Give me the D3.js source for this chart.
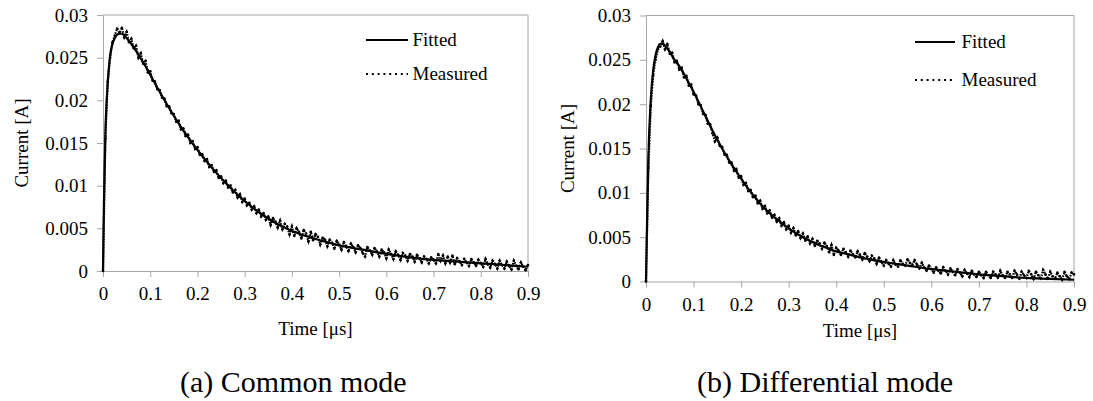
<!DOCTYPE html>
<html>
<head>
<meta charset="utf-8">
<script src="https://cdn.jsdelivr.net/npm/d3@7"></script>
<style>
  html, body { margin: 0; padding: 0; background: #fff; }
  svg { display: block; }
  text { font-family: "Liberation Serif", "Times New Roman", serif; fill: #000; }
</style>
</head>
<body>
<svg id="fig" width="1093" height="401"></svg>
<script>
// Tick values and labels shared by both panels
const currentTicks = [0, 0.005, 0.01, 0.015, 0.02, 0.025, 0.03];
const currentTickLabels = ["0", "0.005", "0.01", "0.015", "0.02", "0.025", "0.03"];
const timeTicks = [0, 0.1, 0.2, 0.3, 0.4, 0.5, 0.6, 0.7, 0.8, 0.9];
const timeTickLabels = ["0", "0.1", "0.2", "0.3", "0.4", "0.5", "0.6", "0.7", "0.8", "0.9"];
const seriesNames = ["Fitted", "Measured"];
const panelCaptions = ["(a) Common mode", "(b) Differential mode"];

// Fitted waveforms (time in µs, current in A)
const fittedTime = [0, 0.002, 0.005, 0.01, 0.015, 0.02, 0.025, 0.03, 0.035, 0.04, 0.05, 0.06, 0.07, 0.08, 0.09,
  0.10, 0.12, 0.14, 0.16, 0.18, 0.20, 0.22, 0.24, 0.26, 0.28, 0.30, 0.32, 0.34, 0.36, 0.38, 0.40,
  0.43, 0.46, 0.50, 0.55, 0.60, 0.65, 0.70, 0.75, 0.80, 0.85, 0.90];
const fittedCommon = [0, 0.008, 0.016, 0.022, 0.0252, 0.0266, 0.0273, 0.0277, 0.0278, 0.0278, 0.0273, 0.0266, 0.0258, 0.0249, 0.0240,
  0.0230, 0.0210, 0.0191, 0.0173, 0.0157, 0.0142, 0.0128, 0.0115, 0.0103, 0.0092, 0.0082, 0.0073, 0.0065, 0.0058, 0.0052, 0.0047,
  0.0041, 0.0036, 0.0030, 0.0025, 0.0020, 0.0016, 0.0013, 0.0011, 0.0009, 0.0007, 0.0005];
const fittedDifferential = [0, 0.006, 0.014, 0.0205, 0.0238, 0.0255, 0.0264, 0.0268, 0.0268, 0.0266, 0.0259, 0.0250, 0.0243, 0.0234, 0.0224,
  0.0214, 0.0192, 0.0170, 0.0150, 0.0132, 0.0116, 0.0101, 0.0088, 0.0077, 0.0068, 0.0060, 0.0053, 0.0047, 0.0042, 0.0038, 0.0034,
  0.0030, 0.0026, 0.0022, 0.0018, 0.0014, 0.0011, 0.0008, 0.0006, 0.0004, 0.0003, 0.0002];

// Measured waveforms, one sample every 5 ns from 0 to 0.9 µs
const sampleStep = 0.005;
const measuredCommon = [
  0, 0.0155, 0.0222, 0.0250, 0.0268, 0.0276, 0.0284, 0.0279, 0.0285, 0.0274,
  0.0280, 0.0268, 0.0272, 0.0261, 0.0264, 0.0250, 0.0255, 0.0243, 0.0246, 0.0233,
  0.0234, 0.0223, 0.0222, 0.0213, 0.0212, 0.0203, 0.0202, 0.0193, 0.0193, 0.0185,
  0.0184, 0.0175, 0.0176, 0.0166, 0.0167, 0.0158, 0.0160, 0.0150, 0.0152, 0.0143,
  0.0145, 0.0136, 0.0137, 0.0129, 0.0131, 0.0122, 0.0124, 0.0116, 0.0118, 0.0109,
  0.0111, 0.0103, 0.0106, 0.0098, 0.0100, 0.0092, 0.0095, 0.0086, 0.0090, 0.0081,
  0.0085, 0.0077, 0.0080, 0.0072, 0.0076, 0.0068, 0.0072, 0.0064, 0.0068, 0.0060,
  0.0064, 0.0054, 0.0062, 0.0058, 0.0051, 0.0059, 0.0049, 0.0055, 0.0052, 0.0043,
  0.0052, 0.0041, 0.0050, 0.0046, 0.0038, 0.0048, 0.0044, 0.0035, 0.0046, 0.0036,
  0.0043, 0.0040, 0.0031, 0.0039, 0.0037, 0.0029, 0.0037, 0.0033, 0.0026, 0.0035,
  0.0031, 0.0025, 0.0034, 0.0029, 0.0023, 0.0032, 0.0028, 0.0022, 0.0030, 0.0027,
  0.0021, 0.0017, 0.0028, 0.0024, 0.0019, 0.0027, 0.0023, 0.0017, 0.0025, 0.0022,
  0.0015, 0.0025, 0.0020, 0.0014, 0.0023, 0.0019, 0.0013, 0.0021, 0.0018, 0.0012,
  0.0020, 0.0017, 0.0011, 0.0019, 0.0015, 0.0010, 0.0017, 0.0014, 0.0009, 0.0016,
  0.0013, 0.0009, 0.0020, 0.0012, 0.0018, 0.0009, 0.0017, 0.0010, 0.0018, 0.0008,
  0.0015, 0.0011, 0.0007, 0.0014, 0.0010, 0.0006, 0.0014, 0.0010, 0.0006, 0.0013,
  0.0009, 0.0005, 0.0014, 0.0008, 0.0004, 0.0012, 0.0008, 0.0003, 0.0012, 0.0007,
  0.0003, 0.0011, 0.0006, 0.0002, 0.0012, 0.0006, 0.0002, 0.0010, 0.0005, 0.0001,
  0.0007];
const measuredDifferential = [
  0, 0.0128, 0.0198, 0.0232, 0.0250, 0.0262, 0.0265, 0.0271, 0.0262, 0.0268,
  0.0257, 0.0258, 0.0247, 0.0249, 0.0239, 0.0241, 0.0230, 0.0232, 0.0221, 0.0222,
  0.0211, 0.0210, 0.0200, 0.0199, 0.0189, 0.0188, 0.0178, 0.0177, 0.0167, 0.0158,
  0.0162, 0.0153, 0.0152, 0.0143, 0.0143, 0.0134, 0.0134, 0.0125, 0.0127, 0.0117,
  0.0119, 0.0109, 0.0111, 0.0102, 0.0103, 0.0095, 0.0097, 0.0088, 0.0091, 0.0082,
  0.0085, 0.0077, 0.0080, 0.0072, 0.0075, 0.0067, 0.0071, 0.0063, 0.0067, 0.0059,
  0.0063, 0.0055, 0.0060, 0.0052, 0.0057, 0.0049, 0.0054, 0.0046, 0.0051, 0.0043,
  0.0048, 0.0040, 0.0046, 0.0043, 0.0037, 0.0044, 0.0040, 0.0033, 0.0041, 0.0030,
  0.0038, 0.0035, 0.0030, 0.0037, 0.0033, 0.0028, 0.0035, 0.0031, 0.0027, 0.0034,
  0.0030, 0.0025, 0.0032, 0.0028, 0.0023, 0.0029, 0.0026, 0.0020, 0.0027, 0.0022,
  0.0018, 0.0024, 0.0020, 0.0017, 0.0024, 0.0019, 0.0017, 0.0024, 0.0020, 0.0018,
  0.0025, 0.0021, 0.0019, 0.0024, 0.0019, 0.0015, 0.0021, 0.0016, 0.0012, 0.0018,
  0.0014, 0.0010, 0.0016, 0.0012, 0.0009, 0.0016, 0.0012, 0.0008, 0.0015, 0.0011,
  0.0007, 0.0014, 0.0010, 0.0006, 0.0013, 0.0009, 0.0005, 0.0012, 0.0008, 0.0005,
  0.0011, 0.0007, 0.0004, 0.0011, 0.0007, 0.0004, 0.0011, 0.0008, 0.0004, 0.0012,
  0.0007, 0.0004, 0.0011, 0.0008, 0.0004, 0.0012, 0.0008, 0.0003, 0.0011, 0.0007,
  0.0004, 0.0012, 0.0008, 0.0003, 0.0011, 0.0007, 0.0003, 0.0013, 0.0008, 0.0003,
  0.0011, 0.0006, 0.0003, 0.0010, 0.0006, 0.0002, 0.0011, 0.0006, 0.0003, 0.0010,
  0.0008];

const axisGray = "#a6a6a6";
const svg = d3.select("#fig");

// Panel geometry
const panels = [
  { fitted: fittedCommon, measured: measuredCommon, caption: panelCaptions[0],
    x0: 103, x1: 528, yTop: 15, yBottom: 271,
    yLabelX: 21, xTitleY: 335, xTickDy: 29, captionX: 180,
    legendLineX: 366, legendLineLen: 42, legendTextX: 412.5, legendY: [40, 74] },
  { fitted: fittedDifferential, measured: measuredDifferential, caption: panelCaptions[1],
    x0: 646, x1: 1074, yTop: 15.5, yBottom: 281.5,
    yLabelX: 567, xTitleY: 337, xTickDy: 29, captionX: 697,
    legendLineX: 915, legendLineLen: 40, legendTextX: 961.5, legendY: [42, 80] }
];

panels.forEach(p => {
  const x = d3.scaleLinear().domain([0, 0.9]).range([p.x0, p.x1]);
  const y = d3.scaleLinear().domain([0, 0.03]).range([p.yBottom, p.yTop]);
  const g = svg.append("g");

  // Plot-area frame (top and right edges)
  g.append("path")
    .attr("d", `M${p.x0},${p.yTop}H${p.x1}V${p.yBottom}`)
    .attr("fill", "none").attr("stroke", axisGray).attr("stroke-width", 1);

  // Y axis
  const yAxis = d3.axisLeft(y).tickValues(currentTicks)
    .tickFormat((d, i) => currentTickLabels[i]).tickSize(6).tickSizeOuter(0).tickPadding(9);
  const ya = g.append("g").attr("transform", `translate(${p.x0},0)`).call(yAxis);
  ya.select(".domain").attr("stroke", axisGray);
  ya.selectAll(".tick line").attr("stroke", axisGray);
  ya.selectAll(".tick text").attr("font-size", 19).attr("font-family", "Liberation Serif");

  // X axis
  const xAxis = d3.axisBottom(x).tickValues(timeTicks)
    .tickFormat((d, i) => timeTickLabels[i]).tickSize(6).tickSizeOuter(0).tickPadding(9);
  const xa = g.append("g").attr("transform", `translate(0,${p.yBottom})`).call(xAxis);
  xa.select(".domain").attr("stroke", axisGray);
  xa.selectAll(".tick line").attr("stroke", axisGray);
  xa.selectAll(".tick text").attr("font-size", 19).attr("font-family", "Liberation Serif")
    .attr("dy", null).attr("y", p.xTickDy);

  // Axis titles
  g.append("text")
    .attr("transform", `translate(${p.yLabelX},${(p.yTop + p.yBottom) / 2}) rotate(-90)`)
    .attr("text-anchor", "middle").attr("dy", "0.35em").attr("font-size", 19)
    .text("Current [A]");
  g.append("text")
    .attr("x", (p.x0 + p.x1) / 2).attr("y", p.xTitleY)
    .attr("text-anchor", "middle").attr("font-size", 19)
    .text("Time [μs]");

  // Measured samples: dotted trace with a dot at each sample
  const measuredLine = d3.line()
    .x((d, i) => x(i * sampleStep)).y(d => y(d));
  g.append("path")
    .datum(p.measured)
    .attr("d", measuredLine)
    .attr("fill", "none").attr("stroke", "#000")
    .attr("stroke-width", 2.2).attr("stroke-dasharray", "1.6,1.2");
  g.append("g").selectAll("circle")
    .data(p.measured)
    .join("circle")
    .attr("cx", (d, i) => x(i * sampleStep))
    .attr("cy", d => y(d))
    .attr("r", 1.3)
    .attr("fill", "#000");

  // Fitted curve: solid trace
  const fittedLine = d3.line()
    .x((d, i) => x(fittedTime[i])).y(d => y(d)).curve(d3.curveMonotoneX);
  g.append("path")
    .datum(p.fitted)
    .attr("d", fittedLine)
    .attr("fill", "none").attr("stroke", "#000").attr("stroke-width", 2.2);

  // Legend
  const lg = g.append("g");
  lg.append("line").attr("x1", p.legendLineX).attr("x2", p.legendLineX + p.legendLineLen)
    .attr("y1", p.legendY[0]).attr("y2", p.legendY[0])
    .attr("stroke", "#000").attr("stroke-width", 2.2);
  lg.append("line").attr("x1", p.legendLineX).attr("x2", p.legendLineX + p.legendLineLen)
    .attr("y1", p.legendY[1]).attr("y2", p.legendY[1])
    .attr("stroke", "#000").attr("stroke-width", 2.2).attr("stroke-dasharray", "2,3.8");
  seriesNames.forEach((name, i) => {
    lg.append("text").attr("x", p.legendTextX).attr("y", p.legendY[i])
      .attr("dy", "0.33em").attr("font-size", 19).text(name);
  });

  // Panel caption
  g.append("text").attr("x", p.captionX).attr("y", 392)
    .attr("font-size", 30).text(p.caption);
});
</script>
</body>
</html>
